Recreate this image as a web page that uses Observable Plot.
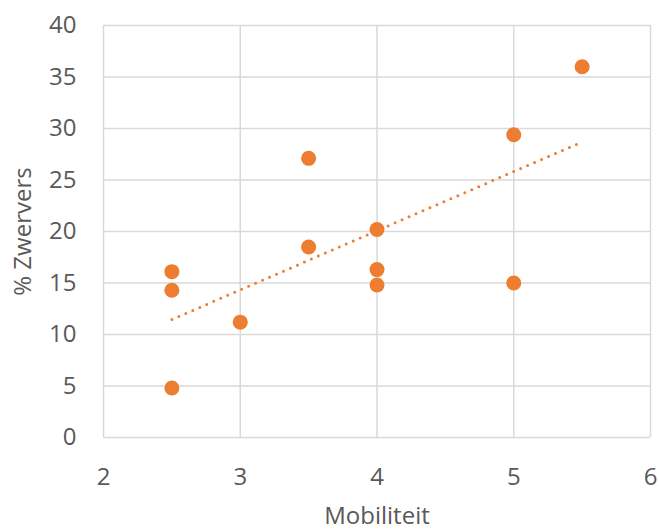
<!DOCTYPE html>
<html>
<head>
<meta charset="utf-8">
<script src="https://cdn.jsdelivr.net/npm/d3@7"></script>
<script src="https://cdn.jsdelivr.net/npm/@observablehq/plot@0.6"></script>
<style>
  html, body { margin: 0; padding: 0; background: #fff; }
  #chart svg { display: block; }
</style>
</head>
<body>
<div id="chart"></div>
<script>
const mobiliteit = [2.5, 2.5, 2.5, 3, 3.5, 3.5, 4, 4, 4, 5, 5, 5.5];
const zwervers   = [16.1, 14.3, 4.8, 11.2, 27.1, 18.5, 20.2, 16.3, 14.8, 29.4, 15.0, 36.0];
const xTicks = [2, 3, 4, 5, 6];
const yTicks = [0, 5, 10, 15, 20, 25, 30, 35, 40];
const xLabel = "Mobiliteit";
const yLabel = "% Zwervers";

const data = mobiliteit.map((m, i) => ({x: m, y: zwervers[i]}));
const orange = "#ED7D31";

const chart = Plot.plot({
  width: 659,
  height: 529,
  marginLeft: 103,
  marginRight: 9,
  marginTop: 25,
  marginBottom: 92,
  style: {fontFamily: "'Open Sans', sans-serif", fontSize: "24px", color: "#595959", background: "#fff", overflow: "visible"},
  x: {domain: [2, 6]},
  y: {domain: [0, 40]},
  marks: [
    Plot.gridX(xTicks, {stroke: "#d9d9d9", strokeOpacity: 1, strokeWidth: 1.5}),
    Plot.gridY(yTicks, {stroke: "#d9d9d9", strokeOpacity: 1, strokeWidth: 1.5}),
    Plot.axisX(xTicks, {tickSize: 0, tickPadding: 30, tickFormat: "d", fill: "#595959", fontSize: 24, label: xLabel, labelAnchor: "center", labelOffset: 86, labelArrow: "none"}),
    Plot.axisY(yTicks, {tickSize: 0, tickPadding: 27, tickFormat: "d", fill: "#595959", fontSize: 24, label: yLabel, labelAnchor: "center", labelOffset: 90, labelArrow: "none"}),
    Plot.linearRegressionY(data, {x: "x", y: "y", ci: 0, stroke: orange, strokeWidth: 3, strokeDasharray: "0 7.6", strokeLinecap: "round"}),
    Plot.dot(data, {x: "x", y: "y", r: 7.5, fill: orange, stroke: "none"})
  ]
});
document.getElementById("chart").appendChild(chart);
</script>
</body>
</html>
